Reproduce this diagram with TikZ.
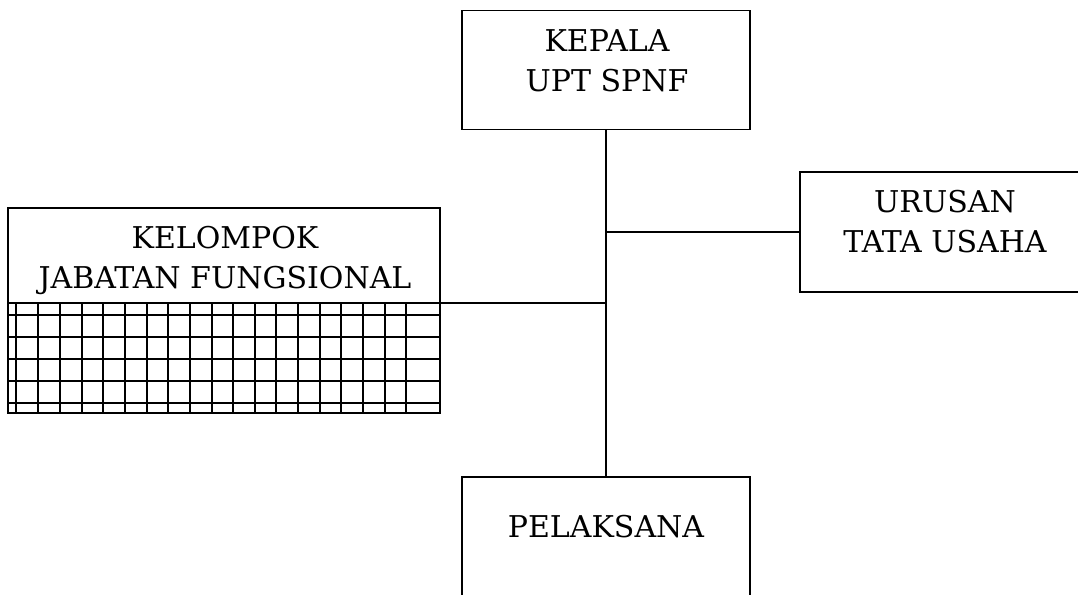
\documentclass[tikz,border=0pt]{standalone}
\usepackage{fontspec}
\setmainfont{DejaVu Serif}
\begin{document}
\begin{tikzpicture}[x=1pt,y=-1pt,
  box/.style={draw,line width=1.6pt,rectangle,inner sep=0pt},
  lbl/.style={anchor=base,inner sep=0pt,font=\fontsize{30}{36}\selectfont},
  conn/.style={line width=1.3pt},
  gridln/.style={line width=2pt}]
\useasboundingbox (0,0) rectangle (1078,594);
\begin{scope}
\clip (0,0) rectangle (1078,594);
% boxes
\node[box,minimum width=288pt,minimum height=119pt] (kepala) at (606,70) {};
\node[box,minimum width=292pt,minimum height=120pt] (urusan) at (946,232) {};
\node[box,minimum width=288pt,minimum height=130pt] (pelaksana) at (606,542) {};
% grid of kelompok
\foreach \gx in {16,38.3,59.95,...,427} {\draw[gridln] (\gx,303) -- (\gx,413);}
\foreach \gy in {315,337,359,381,403} {\draw[gridln] (8,\gy) -- (440,\gy);}
\node[box,minimum width=432pt,minimum height=205pt] (kjf) at (224,310.5) {};
\coordinate (kjfsep) at (8,303);
\coordinate (kjfc) at (440,303);
\draw[line width=1.6pt] (kjfsep) -- (kjfc);
\end{scope}
% texts
\node[lbl] (t1) at (607,51.5) {KEPALA};
\node[lbl] (t2) at (607,91) {UPT SPNF};
\node[lbl] (t3) at (945,212.5) {URUSAN};
\node[lbl] (t4) at (945,252.5) {TATA USAHA};
\node[lbl] (t5) at (225,248.5) {KELOMPOK};
\node[lbl] (t6) at (225,288.5) {JABATAN FUNGSIONAL};
\node[lbl] (t7) at (606,537) {PELAKSANA};
% connectors
\draw[conn] (kepala.south) -- (pelaksana.north);
\draw[conn] (urusan.west) -- (urusan.west -| kepala.south);
\draw[conn] (kjfc) -- (kjfc -| kepala.south);
\end{tikzpicture}
\end{document}
